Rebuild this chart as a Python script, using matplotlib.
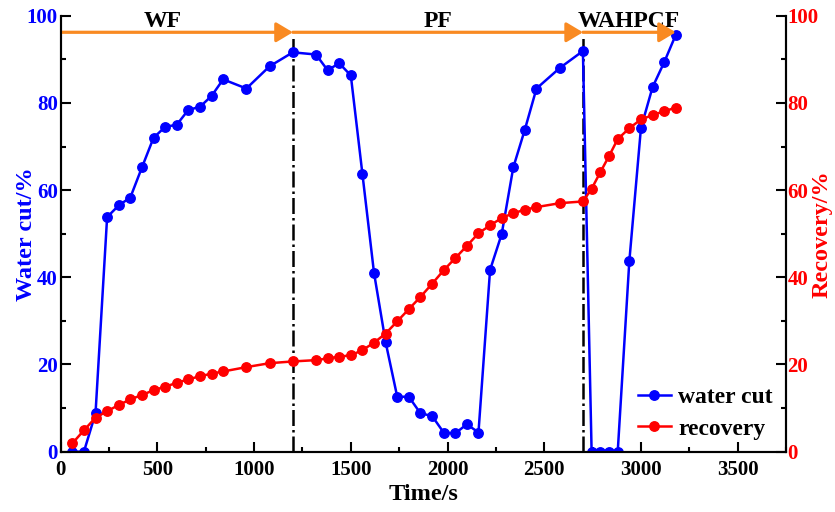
import matplotlib
matplotlib.use("Agg")
import matplotlib.pyplot as plt
from matplotlib.patches import FancyArrowPatch
from matplotlib.ticker import MultipleLocator

# time axis (s) shared by both series
time_s = [60, 120, 180, 240, 300, 360, 420, 480, 540, 600, 660, 720, 780, 840,
          960, 1080, 1200, 1320, 1380, 1440, 1500, 1560, 1620, 1680, 1740, 1800,
          1860, 1920, 1980, 2040, 2100, 2160, 2220, 2280, 2340, 2400, 2460, 2580,
          2700, 2745, 2790, 2835, 2880, 2940, 3000, 3060, 3120, 3180]

water_cut = [0.0, 0.0, 8.8, 53.8, 56.5, 58.3, 65.2, 72.0, 74.5, 75.0, 78.4, 79.1,
             81.6, 85.4, 83.3, 88.4, 91.6, 91.1, 87.5, 89.1, 86.3, 63.7, 41.0,
             25.1, 12.6, 12.6, 8.8, 8.2, 4.4, 4.2, 6.3, 4.4, 41.7, 49.9, 65.2,
             73.9, 83.3, 88.0, 91.9, 0.0, 0.0, 0.0, 0.0, 43.7, 74.2, 83.6, 89.3,
             95.6]

recovery = [1.9, 4.9, 7.8, 9.3, 10.7, 12.0, 13.0, 14.1, 14.9, 15.8, 16.6, 17.3,
            17.9, 18.4, 19.4, 20.3, 20.7, 21.0, 21.4, 21.8, 22.1, 23.3, 25.0,
            27.1, 29.9, 32.7, 35.5, 38.5, 41.6, 44.4, 47.2, 50.1, 51.9, 53.6,
            54.7, 55.5, 56.1, 57.0, 57.4, 60.3, 64.1, 67.8, 71.7, 74.2, 76.2,
            77.2, 78.1, 78.9]

# flooding stages: name, start, end
stage_names = ["WF", "PF", "WAHPCF"]
stage_start = [0, 1200, 2700]
stage_end = [1200, 2700, 3180]
switch_times = [1200, 2700]

ORANGE = "#f98a22"

plt.rcParams["font.family"] = "Liberation Serif"
plt.rcParams["font.weight"] = "bold"
plt.rcParams["axes.labelweight"] = "bold"

fig, ax = plt.subplots(figsize=(8.35, 5.12), dpi=100)
fig.subplots_adjust(left=0.0727, right=0.9413, bottom=0.1178, top=0.9693)
ax2 = ax.twinx()

ln1, = ax.plot(time_s, water_cut, "-o", color="#0000ff", lw=1.8, ms=6.8,
               label="water cut", zorder=3)
ln2, = ax2.plot(time_s, recovery, "-o", color="#ff0000", lw=1.8, ms=6.8,
                label="recovery", zorder=3)

for t in switch_times:
    ax.plot([t, t], [0, 95], color="black", lw=1.8, ls="-.", zorder=2)

for name, t0, t1 in zip(stage_names, stage_start, stage_end):
    arrow = FancyArrowPatch((t0, 96.2), (t1, 96.2), arrowstyle="-|>,head_length=0.5,head_width=0.3",
                            mutation_scale=20, color=ORANGE, lw=2.3,
                            shrinkA=0, shrinkB=0, zorder=4)
    ax.add_patch(arrow)

label_x = [530, 1950, 2935]
for name, x in zip(stage_names, label_x):
    ax.text(x, 97.3, name, ha="center", va="baseline", fontsize=17,
            fontweight="bold", color="black", clip_on=False)

ax.set_xlim(0, 3750)
ax.set_ylim(0, 100)
ax2.set_ylim(0, 100)
ax.xaxis.set_major_locator(MultipleLocator(500))
ax.xaxis.set_minor_locator(MultipleLocator(250))
for a in (ax, ax2):
    a.yaxis.set_major_locator(MultipleLocator(20))
    a.yaxis.set_minor_locator(MultipleLocator(10))
    a.spines["top"].set_visible(False)
    for s in a.spines.values():
        s.set_linewidth(1.5)

ax.tick_params(which="both", direction="in", width=1.5, labelsize=15)
ax.tick_params(which="major", length=7)
ax.tick_params(which="minor", length=3.4)
ax.tick_params(axis="y", labelcolor="#0000ff", pad=2)
ax.tick_params(axis="x", pad=6)
ax2.tick_params(which="both", direction="in", width=1.5, labelsize=15,
                labelcolor="#ff0000", pad=1)
ax2.tick_params(which="major", length=7)
ax2.tick_params(which="minor", length=3.4)
for lab in ax.get_xticklabels() + ax.get_yticklabels() + ax2.get_yticklabels():
    lab.set_fontweight("bold")

ax.set_xlabel("Time/s", fontsize=17.5, fontweight="bold", labelpad=3)
ax.set_ylabel("Water cut/%", fontsize=17.5, fontweight="bold", color="#0000ff", labelpad=-7)
ax2.set_ylabel("Recovery/%", fontsize=17.5, fontweight="bold", color="#ff0000", labelpad=-5)

ax2.legend([ln1, ln2], ["water cut", "recovery"], loc="lower right",
           bbox_to_anchor=(1.011, -0.021), frameon=False, fontsize=17,
           handlelength=1.4, handletextpad=0.3, labelspacing=0.42)

fig.savefig("out.png", dpi=100)
